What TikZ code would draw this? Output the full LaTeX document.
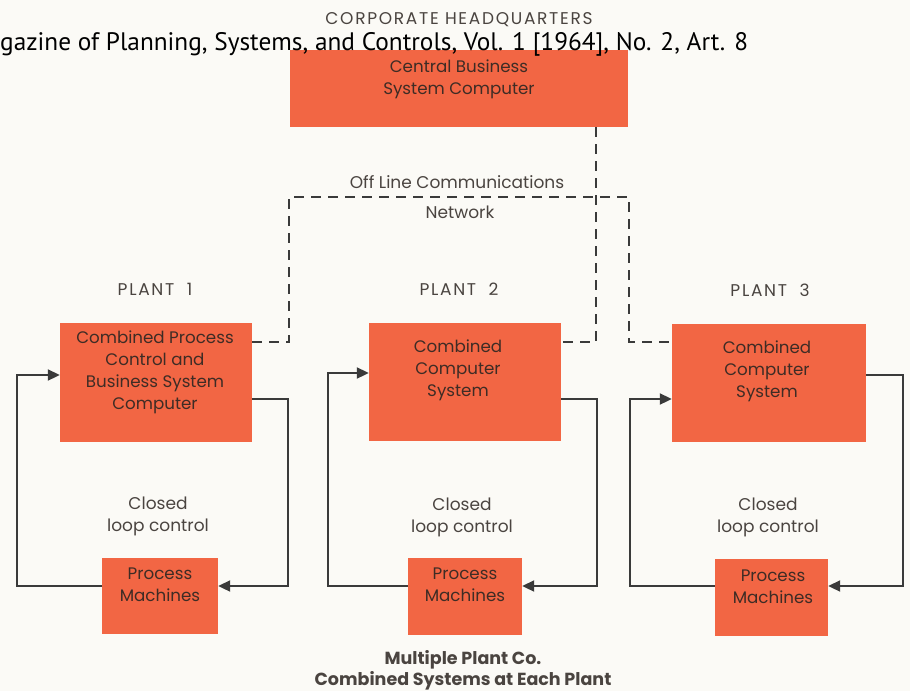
\documentclass[tikz,border=0pt]{standalone}
\usepackage{fontspec}
\setmainfont{Poppins}
\newfontfamily\overlayfont{PT Sans}
\newfontfamily\capsfont[LetterSpace=10]{Poppins}
\usetikzlibrary{arrows.meta}
\definecolor{bgcol}{HTML}{FBFAF6}
\definecolor{boxcol}{HTML}{F26644}
\definecolor{boxtxt}{HTML}{3E2C25}
\definecolor{labtxt}{HTML}{4A4440}
\definecolor{linecol}{HTML}{3A3A3A}
\tikzset{
  compbox/.style={fill=boxcol, draw=none, inner sep=0pt},
  boxtext/.style={text=boxtxt, align=center, font=\fontsize{16.7}{22}\selectfont},
  lab/.style={text=labtxt, align=center, font=\fontsize{17}{22}\selectfont},
  capslab/.style={text=labtxt, align=center, font=\capsfont\fontsize{17}{22}\selectfont},
  looparrow/.style={draw=linecol, line width=2pt, -{Triangle[length=12pt,width=11pt]}},
  netline/.style={draw=linecol, line width=2pt, dash pattern=on 10pt off 7pt},
}
\begin{document}
\begin{tikzpicture}[x=1pt,y=-1pt]
\useasboundingbox (0,0) rectangle (910,691);
\fill[bgcol] (0,0) rectangle (910,691);

% headquarters
\node[capslab] (hqlab) at (459,20) {CORPORATE HEADQUARTERS};
\node[compbox, minimum width=338pt, minimum height=77pt] (hq) at (459,88.5) {};
\node[boxtext] (hqtxt) at (459,79) {Central Business\\System Computer};

% plant labels
\node[capslab] (pl1) at (155,289) {PLANT\ \ 1};
\node[capslab] (pl2) at (459,289) {PLANT\ \ 2};
\node[capslab] (pl3) at (770,290) {PLANT\ \ 3};

% plant computers
\node[compbox, minimum width=192pt, minimum height=119pt] (c1) at (156,382.5) {};
\node[boxtext] (c1t) at (155,372) {Combined Process\\Control and\\Business System\\Computer};
\node[compbox, minimum width=192pt, minimum height=118pt] (c2) at (465,382) {};
\node[boxtext] (c2t) at (458,370) {Combined\\Computer\\System};
\node[compbox, minimum width=194pt, minimum height=118pt] (c3) at (769,383) {};
\node[boxtext] (c3t) at (767,371) {Combined\\Computer\\System};

% process machines
\node[compbox, minimum width=116pt, minimum height=76pt] (pm1) at (160,596) {};
\node[boxtext] (pm1t) at (160,585) {Process\\Machines};
\node[compbox, minimum width=114pt, minimum height=77pt] (pm2) at (465,596.5) {};
\node[boxtext] (pm2t) at (465,585) {Process\\Machines};
\node[compbox, minimum width=113pt, minimum height=77pt] (pm3) at (771.5,597.5) {};
\node[boxtext] (pm3t) at (773,587) {Process\\Machines};

% closed loop labels
\node[lab] (cl1) at (158,516) {Closed\\loop control};
\node[lab] (cl2) at (462,517) {Closed\\loop control};
\node[lab] (cl3) at (768,517) {Closed\\loop control};

% network labels
\node[lab] (net1) at (457,182) {Off Line Communications};
\node[lab] (net2) at (460,212) {Network};

% dashed network
\draw[netline] (hq.south -| 596,0) -- (596,342) -- (c2.east |- 0,342);
\draw[netline] (c1.east |- 0,342) -| (289,197) -- (629,197) -- (629,342) -- (c3.west |- 0,342);

% loops
\draw[looparrow] (pm1.west |- 0,586) -| (17,375) -- (c1.west |- 0,375);
\draw[looparrow] (c1.east |- 0,399) -| (288,586) -- (pm1.east |- 0,586);
\draw[looparrow] (pm2.west |- 0,586) -| (328,373) -- (c2.west |- 0,373);
\draw[looparrow] (c2.east |- 0,399) -| (597,586) -- (pm2.east |- 0,586);
\draw[looparrow] (pm3.west |- 0,586) -| (630,399) -- (c3.west |- 0,399);
\draw[looparrow] (c3.east |- 0,375) -| (903,586) -- (pm3.east |- 0,586);

% caption
\node[text=labtxt, align=center, font=\bfseries\fontsize{17.5}{21}\selectfont] (cap) at (463,670) {Multiple Plant Co.\\Combined Systems at Each Plant};

% overlay header
\node[anchor=west, inner sep=0pt, font=\overlayfont\fontsize{25.3}{27}\selectfont, text=black] (ovl) at (0,44) {gazine of Planning, Systems, and Controls, Vol. 1 [1964], No. 2, Art. 8};
\end{tikzpicture}
\end{document}
